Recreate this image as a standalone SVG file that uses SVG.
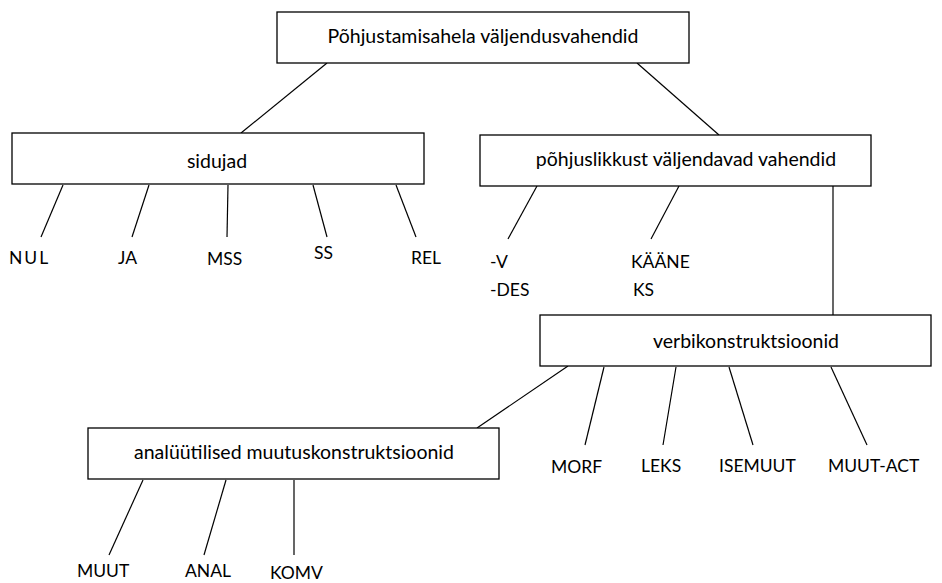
<svg xmlns="http://www.w3.org/2000/svg" width="942" height="583" viewBox="0 0 942 583">
<style>
.box{fill:#fff;stroke:#000;stroke-width:1.3}
.t{font-family:Lato,"Open Sans","Liberation Sans",sans-serif;font-size:17.5px;fill:#000}
.b{font-size:19.5px;text-anchor:middle}
#connectors line{stroke:#000;stroke-width:1.2}
</style>
<rect width="942" height="583" fill="#fff"/>
<g id="connectors">
<line x1="327" y1="63" x2="241" y2="133"/>
<line x1="637" y1="63" x2="719" y2="135"/>
<line x1="63" y1="185" x2="41" y2="237"/>
<line x1="149" y1="185" x2="132" y2="237"/>
<line x1="228" y1="185" x2="227" y2="237"/>
<line x1="313" y1="185" x2="327" y2="237"/>
<line x1="396" y1="185" x2="416" y2="237"/>
<line x1="537" y1="186" x2="508" y2="239"/>
<line x1="679" y1="186" x2="651" y2="239"/>
<line x1="833" y1="186" x2="833" y2="315"/>
<line x1="568" y1="366" x2="477" y2="428"/>
<line x1="604" y1="367" x2="585" y2="445"/>
<line x1="676" y1="367" x2="663" y2="445"/>
<line x1="729" y1="367" x2="753" y2="445"/>
<line x1="831" y1="367" x2="867" y2="445"/>
<line x1="143" y1="480" x2="109" y2="555"/>
<line x1="226" y1="480" x2="204" y2="555"/>
<line x1="294" y1="480" x2="294" y2="555"/>
</g>
<g id="root">
<rect class="box" x="277" y="12" width="412" height="51"/>
<text class="t b" x="483" y="43">Põhjustamisahela väljendusvahendid</text>
</g>
<g id="sidujad">
<rect class="box" x="12" y="133" width="412" height="51"/>
<text class="t b" x="217" y="168">sidujad</text>
</g>
<g id="pohjuslikkust">
<rect class="box" x="480" y="135" width="391" height="51"/>
<text class="t b" x="686" y="166">põhjuslikkust väljendavad vahendid</text>
</g>
<g id="verbikonstruktsioonid">
<rect class="box" x="540" y="315" width="391" height="51"/>
<text class="t b" x="746" y="348">verbikonstruktsioonid</text>
</g>
<g id="analyytilised">
<rect class="box" x="88" y="428" width="411" height="51"/>
<text class="t b" x="294" y="459">analüütilised muutuskonstruktsioonid</text>
</g>
<g id="leaf-nul"><text class="t" x="9" y="264" letter-spacing="2">NUL</text></g>
<g id="leaf-ja"><text class="t" x="118" y="264">JA</text></g>
<g id="leaf-mss"><text class="t" x="207" y="265">MSS</text></g>
<g id="leaf-ss"><text class="t" x="314" y="259">SS</text></g>
<g id="leaf-rel"><text class="t" x="411" y="264">REL</text></g>
<g id="leaf-v"><text class="t" x="490" y="268">-V</text><text class="t" x="490" y="296">-DES</text></g>
<g id="leaf-kaane"><text class="t" x="631" y="268">KÄÄNE</text><text class="t" x="633" y="296">KS</text></g>
<g id="leaf-morf"><text class="t" x="551" y="473">MORF</text></g>
<g id="leaf-leks"><text class="t" x="641" y="472">LEKS</text></g>
<g id="leaf-isemuut"><text class="t" x="719" y="472">ISEMUUT</text></g>
<g id="leaf-muutact"><text class="t" x="828" y="472">MUUT-ACT</text></g>
<g id="leaf-muut"><text class="t" x="77" y="577">MUUT</text></g>
<g id="leaf-anal"><text class="t" x="185" y="577">ANAL</text></g>
<g id="leaf-komv"><text class="t" x="270" y="579">KOMV</text></g>
</svg>
